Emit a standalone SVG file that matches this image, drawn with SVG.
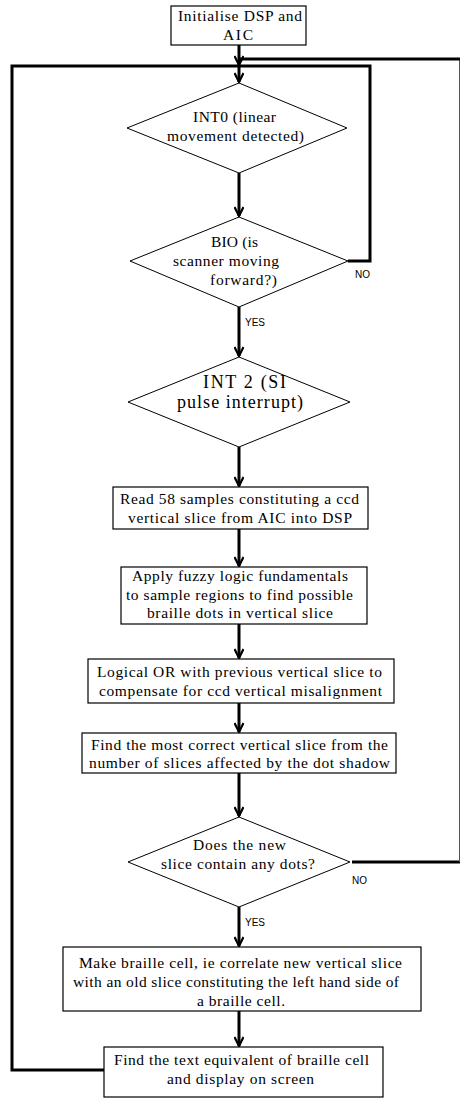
<svg xmlns="http://www.w3.org/2000/svg" width="461" height="1103" viewBox="0 0 461 1103">
<defs>
<marker id="ah" markerWidth="12" markerHeight="10" refX="10" refY="5" orient="auto" markerUnits="userSpaceOnUse">
<path d="M1,0.5 L10,5 L1,9.5" fill="none" stroke="#000" stroke-width="2.2"/>
</marker>
</defs>
<style>
.box{fill:#fff;stroke:#000;stroke-width:1.2}
.dia{fill:#fff;stroke:#000;stroke-width:1}
text.t{font-family:'Liberation Serif','Times New Roman',serif;font-size:15.5px;fill:#000;text-anchor:middle}
text.big{font-size:18px}
text.lbl{font-family:'Liberation Sans',Arial,sans-serif;font-size:10px;fill:#000}
.c{fill:none;stroke:#000;stroke-width:3}
.thin{fill:none;stroke:#555;stroke-width:1}
</style>
<rect width="461" height="1103" fill="#fff"/>
<g id="connectors">
<path class="c" d="M239,45 L239,65" marker-end="url(#ah)"/>
<path class="c" d="M239,66 L239,82" marker-end="url(#ah)"/>
<path class="c" d="M104,1070 L12,1070 L12,66 L239,66"/>
<path class="c" d="M348,261 L370,261 L370,66 L239,66"/>
<path class="c" d="M352,862 L460,862"/>
<path class="thin" d="M459.5,862 L459.5,59"/>
<path class="c" d="M460,59 L239,59"/>
<path class="c" d="M239,173 L239,216" marker-end="url(#ah)"/>
<path class="c" d="M239,307 L239,356" marker-end="url(#ah)"/>
<path class="c" d="M239,447 L239,486" marker-end="url(#ah)"/>
<path class="c" d="M239,529 L239,566" marker-end="url(#ah)"/>
<path class="c" d="M239,624 L239,658" marker-end="url(#ah)"/>
<path class="c" d="M239,703 L239,732" marker-end="url(#ah)"/>
<path class="c" d="M239,773 L239,816" marker-end="url(#ah)"/>
<path class="c" d="M239,907 L239,946" marker-end="url(#ah)"/>
<path class="c" d="M239,1011 L239,1046" marker-end="url(#ah)"/>
<text class="lbl" x="355" y="278">NO</text>
<text class="lbl" x="245" y="326">YES</text>
<text class="lbl" x="352" y="884">NO</text>
<text class="lbl" x="245" y="926">YES</text>
</g>
<g id="n_init">
<rect class="box" x="171" y="6" width="135" height="39"/>
<text class="t" x="240" y="21" textLength="124" lengthAdjust="spacing">Initialise DSP and</text>
<text class="t" x="238" y="40" textLength="30" lengthAdjust="spacing">AIC</text>
</g>
<g id="n_int0">
<polygon class="dia" points="239,83 347,128 239,173 127,128"/>
<text class="t" x="234.5" y="122" textLength="83" lengthAdjust="spacing">INT0 (linear</text>
<text class="t" x="235.5" y="141" textLength="137" lengthAdjust="spacing">movement detected)</text>
</g>
<g id="n_bio">
<polygon class="dia" points="239,217 348,261 239,307 130,261"/>
<text class="t" x="234.5" y="247" textLength="47" lengthAdjust="spacing">BIO (is</text>
<text class="t" x="226" y="266" textLength="106" lengthAdjust="spacing">scanner moving</text>
<text class="t" x="243.5" y="285" textLength="67" lengthAdjust="spacing">forward?)</text>
</g>
<g id="n_int2">
<polygon class="dia" points="239,357 350,402 239,447 128,402"/>
<text class="t big" x="244.5" y="388" textLength="83" lengthAdjust="spacing">INT 2 (SI</text>
<text class="t big" x="240" y="408" textLength="126" lengthAdjust="spacing">pulse interrupt)</text>
</g>
<g id="n_read">
<rect class="box" x="113" y="487" width="255" height="42"/>
<text class="t" x="239.5" y="504" textLength="239" lengthAdjust="spacing">Read 58 samples constituting a ccd</text>
<text class="t" x="240" y="523" textLength="224" lengthAdjust="spacing">vertical slice from AIC into DSP</text>
</g>
<g id="n_fuzzy">
<rect class="box" x="121" y="567" width="246" height="57"/>
<text class="t" x="240" y="581" textLength="216" lengthAdjust="spacing">Apply fuzzy logic fundamentals</text>
<text class="t" x="239.5" y="600" textLength="227" lengthAdjust="spacing">to sample regions to find possible</text>
<text class="t" x="240" y="618" textLength="186" lengthAdjust="spacing">braille dots in vertical slice</text>
</g>
<g id="n_or">
<rect class="box" x="88" y="659" width="306" height="44"/>
<text class="t" x="239.5" y="677" textLength="285" lengthAdjust="spacing">Logical OR with previous vertical slice to</text>
<text class="t" x="240.5" y="696" textLength="283" lengthAdjust="spacing">compensate for ccd vertical misalignment</text>
</g>
<g id="n_find">
<rect class="box" x="82" y="733" width="314" height="40"/>
<text class="t" x="239.5" y="750" textLength="297" lengthAdjust="spacing">Find the most correct vertical slice from the</text>
<text class="t" x="239.5" y="768" textLength="301" lengthAdjust="spacing">number of slices affected by the dot shadow</text>
</g>
<g id="n_dots">
<polygon class="dia" points="239,817 350,862 239,907 128,862"/>
<text class="t" x="239.5" y="850" textLength="93" lengthAdjust="spacing">Does the new</text>
<text class="t" x="238" y="869" textLength="154" lengthAdjust="spacing">slice contain any dots?</text>
</g>
<g id="n_make">
<rect class="box" x="63" y="947" width="358" height="64"/>
<text class="t" x="240.5" y="968" textLength="323" lengthAdjust="spacing">Make braille cell, ie correlate new vertical slice</text>
<text class="t" x="236" y="987" textLength="326" lengthAdjust="spacing">with an old slice constituting the left hand side of</text>
<text class="t" x="241" y="1006" textLength="88" lengthAdjust="spacing">a braille cell.</text>
</g>
<g id="n_text">
<rect class="box" x="104" y="1047" width="279" height="50"/>
<text class="t" x="241.5" y="1065" textLength="255" lengthAdjust="spacing">Find the text equivalent of braille cell</text>
<text class="t" x="240.5" y="1084" textLength="147" lengthAdjust="spacing">and display on screen</text>
</g>
</svg>
